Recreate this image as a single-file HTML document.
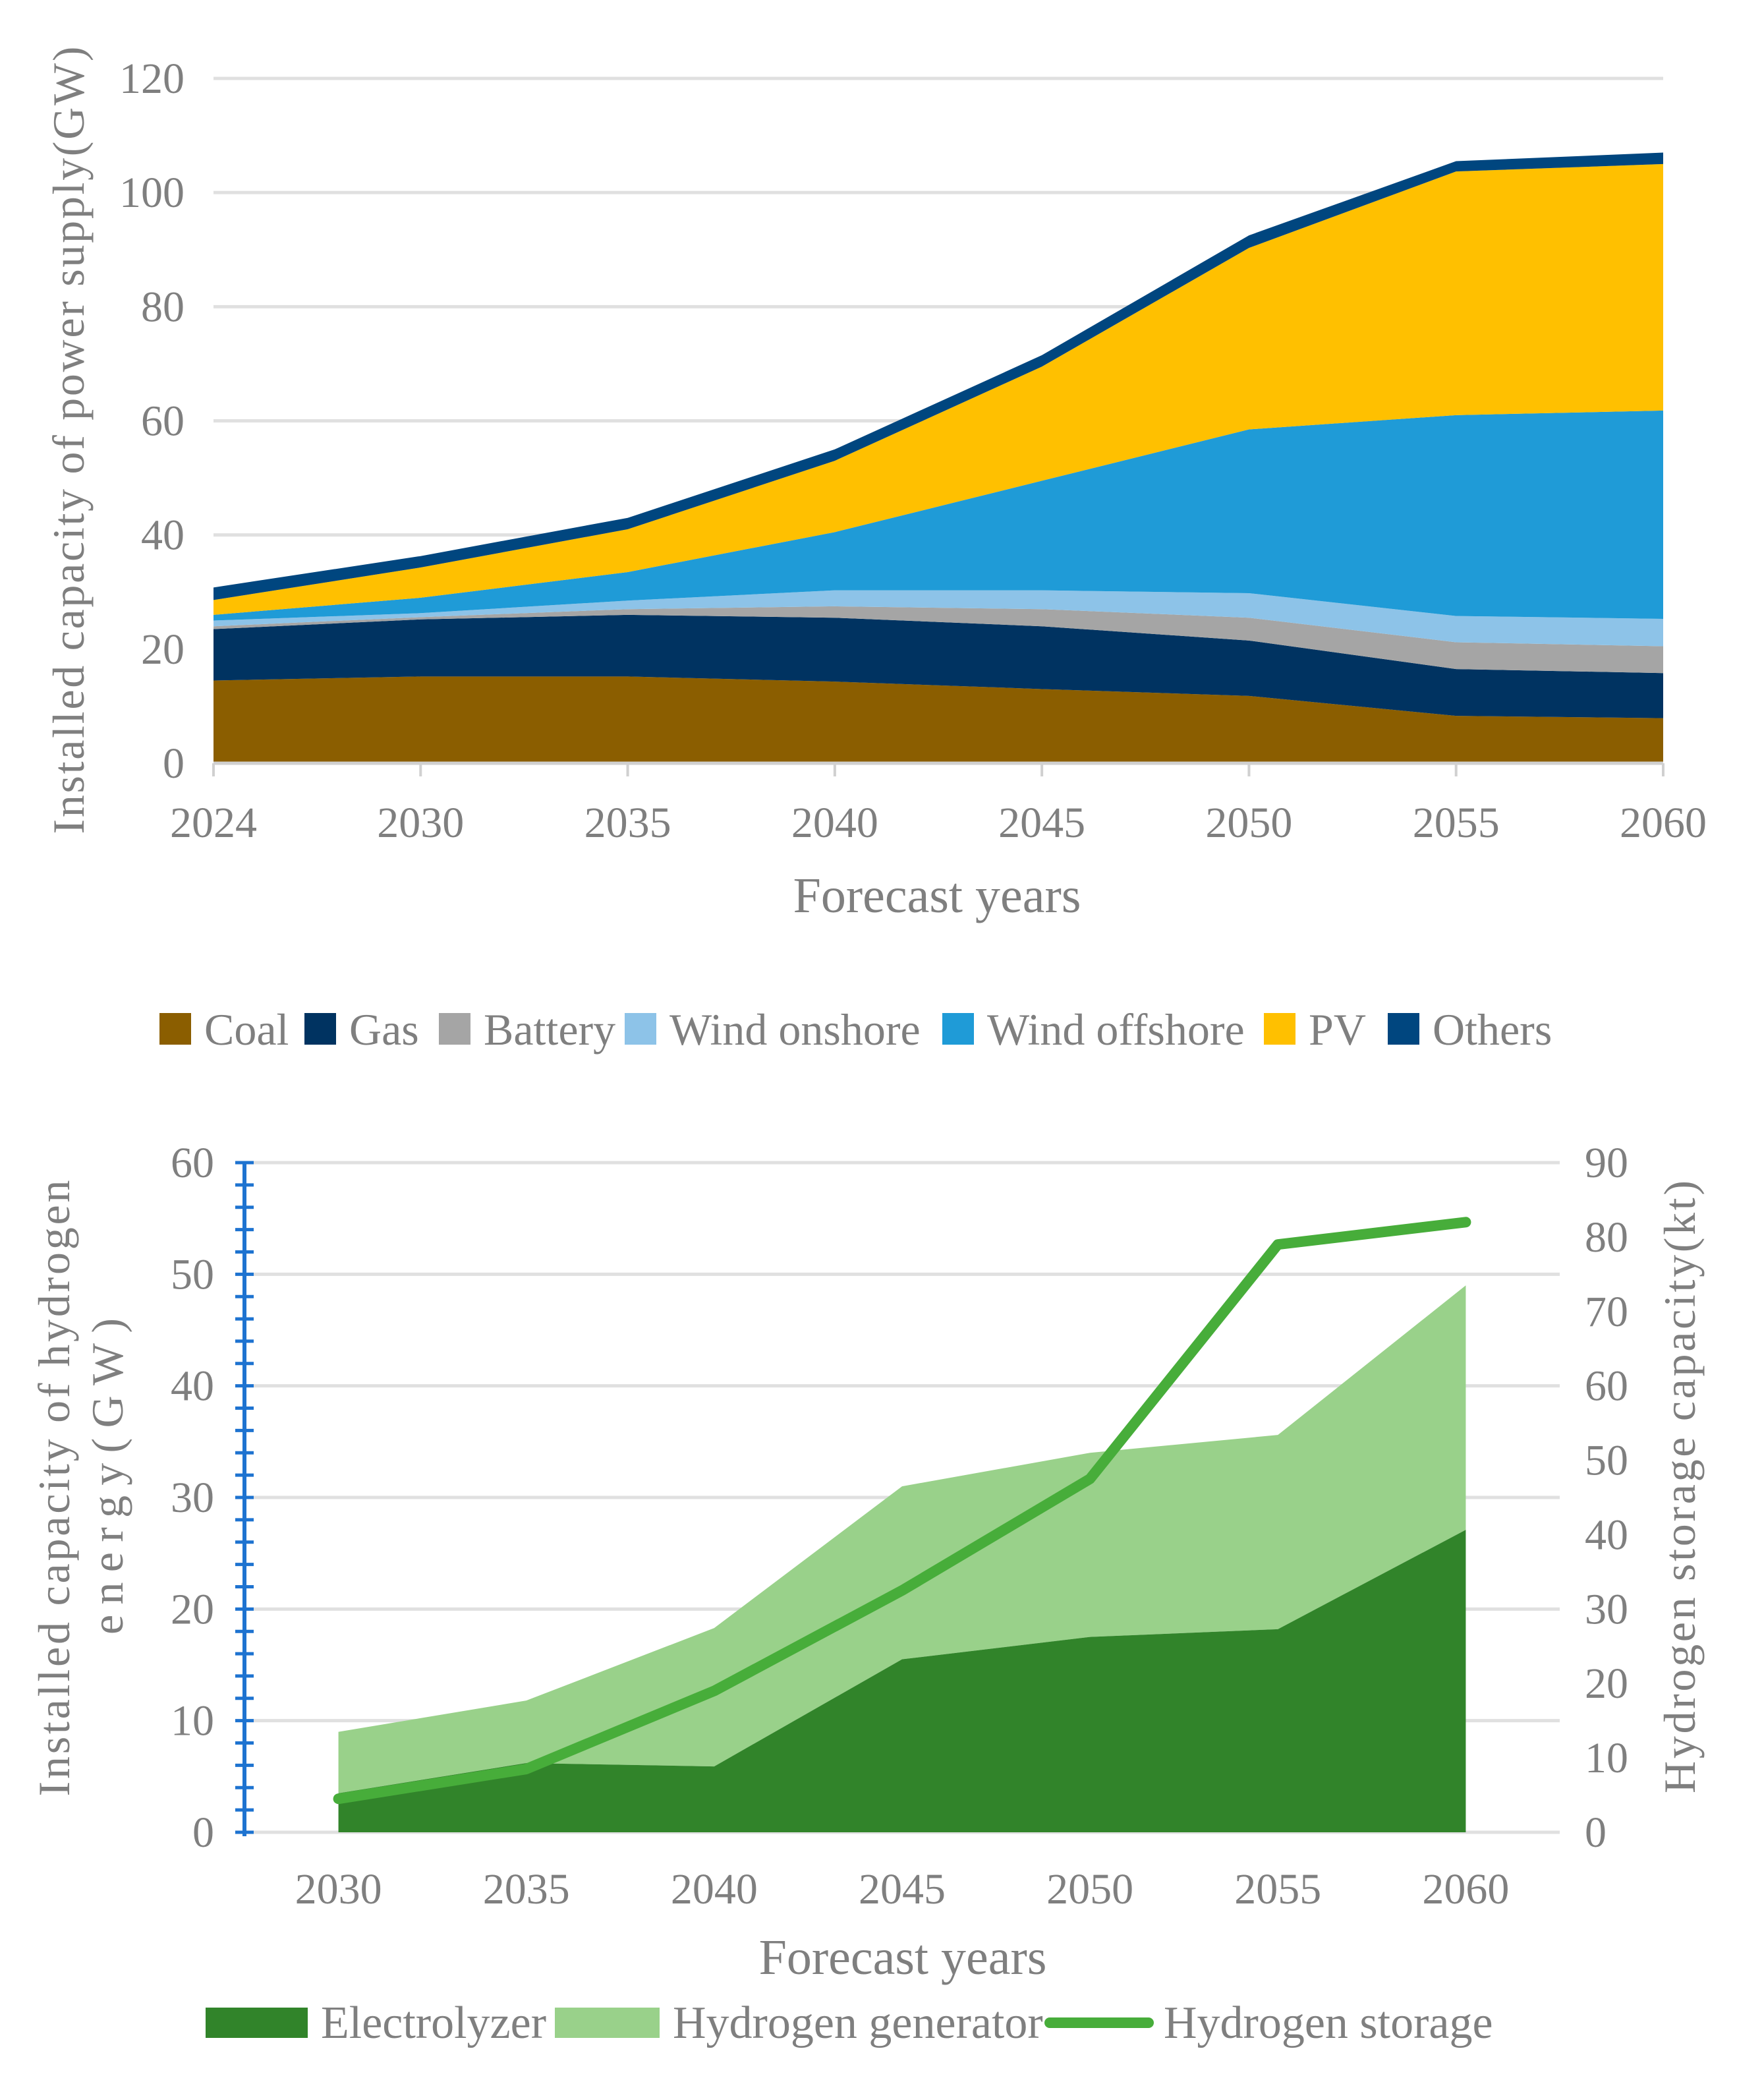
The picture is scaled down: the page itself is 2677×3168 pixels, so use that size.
<!DOCTYPE html>
<html><head><meta charset="utf-8"><style>html,body{margin:0;padding:0;background:#fff}svg{display:block}text{font-family:"Liberation Serif",serif;fill:#7f7f7f}</style></head>
<body>
<svg id="s" width="2677" height="3168" viewBox="0 0 2677 3168" xmlns="http://www.w3.org/2000/svg">
<g id="top"></g>
<g id="bot"></g>
</svg>
<script>
const NS="http://www.w3.org/2000/svg";
// ---- top chart data ----
const years=["2024","2030","2035","2040","2045","2050","2055","2060"];
const coal=[14.5,15.2,15.2,14.3,13.0,11.8,8.3,7.9];
const gas=[9.0,10.0,10.8,11.2,11.0,9.7,8.2,7.9];
const battery=[0.5,0.4,1.0,2.0,3.0,4.0,4.7,4.7];
const windOnshore=[1.0,0.7,1.5,2.8,3.3,4.3,4.6,4.8];
const windOffshore=[1.0,2.7,5.0,10.2,19.2,28.7,35.2,36.5];
const pv=[2.6,5.3,7.5,12.5,20.0,31.8,42.7,43.2];
const others=[2.2,2.0,2.0,2.0,2.0,2.2,1.8,2.0];
const topTicks=[0,20,40,60,80,100,120];
// ---- bottom chart data ----
const hYears=["2030","2035","2040","2045","2050","2055","2060"];
const electrolyzer=[3.5,6.2,5.9,15.5,17.5,18.2,27.1];
const generator=[5.5,5.6,12.4,15.5,16.5,17.4,21.9];
const storage=[4.5,8.5,19,32.5,47.5,79,82];
const leftTicks=[0,10,20,30,40,50,60];
const rightTicks=[0,10,20,30,40,50,60,70,80,90];

function el(p,tag,attrs,txt){const e=document.createElementNS(NS,tag);for(const k in attrs)e.setAttribute(k,attrs[k]);if(txt!==undefined)e.textContent=txt;p.appendChild(e);return e;}

// ===== TOP =====
const T=document.getElementById('top');
const tx0=324,tx1=2524,ty0=1158,ty1=119;
const tX=i=>tx0+(tx1-tx0)*i/(years.length-1);
const tY=v=>ty0-(ty0-ty1)*v/120;
topTicks.forEach(v=>{
  const g=el(T,'line',{x1:tx0,x2:tx1,y1:tY(v),y2:tY(v),stroke:'#e0e0e0','stroke-width':5});
  
  
  const t=el(T,'text',{x:280,y:tY(v)+22,'text-anchor':'end','font-size':66},String(v));
  
  
});
const series=[["coal",coal,"#8B5E00"],["gas",gas,"#003361"],["battery",battery,"#A5A5A5"],["wind-onshore",windOnshore,"#8DC3E8"],["wind-offshore",windOffshore,"#1F9BD7"],["pv",pv,"#FFC000"],["others",others,"#00467F"]];
let base=years.map(()=>0);
series.forEach(([n,arr,c])=>{
  const top=base.map((b,i)=>b+arr[i]);
  let d='M'+years.map((_,i)=>tX(i)+','+tY(top[i])).join(' L');
  for(let i=years.length-1;i>=0;i--)d+=' L'+tX(i)+','+tY(base[i]);
  const p=el(T,'path',{d:d+'Z',fill:c});
  
  
  base=top;
});
const ax=el(T,'line',{x1:tx0,x2:tx1,y1:ty0,y2:ty0,stroke:'#d0d0d0','stroke-width':5});


years.forEach((y,i)=>{
  el(T,'line',{x1:tX(i),x2:tX(i),y1:ty0,y2:ty0+20,stroke:'#d0d0d0','stroke-width':4});
  const t=el(T,'text',{x:tX(i),y:1270,'text-anchor':'middle','font-size':66},y);
  
  
});
let t1=el(T,'text',{x:1422,y:1384,'text-anchor':'middle','font-size':76},'Forecast years');


let t2=el(T,'text',{x:0,y:0,'text-anchor':'middle','font-size':68,textLength:1195,lengthAdjust:'spacing',transform:'translate(127,668) rotate(-90)'},'Installed capacity of power supply(GW)');


const leg=[["Coal",242,"#8B5E00"],["Gas",462,"#003361"],["Battery",666,"#A5A5A5"],["Wind onshore",948,"#8DC3E8"],["Wind offshore",1430,"#1F9BD7"],["PV",1918,"#FFC000"],["Others",2106,"#00467F"]];
leg.forEach(([n,x,c])=>{
  const g=el(T,'g',{});
  
  
  el(g,'rect',{x:x,y:1537,width:48,height:48,fill:c});
  el(g,'text',{x:x+68,y:1585,'font-size':68},n);
});

// ===== BOTTOM =====
const B=document.getElementById('bot');
const bx0=371,bx1=2367,by0=2780,by1=1764;
const bw=(bx1-bx0)/hYears.length;
const bX=i=>bx0+bw*(i+0.5);
const bY=v=>by0-(by0-by1)*v/60;
const bR=v=>by0-(by0-by1)*v/90;
leftTicks.forEach(v=>{
  const g=el(B,'line',{x1:bx0,x2:bx1,y1:bY(v),y2:bY(v),stroke:'#e0e0e0','stroke-width':5});
  
  
  const t=el(B,'text',{x:325,y:bY(v)+22,'text-anchor':'end','font-size':66},String(v));
  
  
});
rightTicks.forEach(v=>{
  const t=el(B,'text',{x:2405,y:bR(v)+22,'font-size':66},String(v));
  
  
});
const eTop=electrolyzer, gTop=electrolyzer.map((v,i)=>v+generator[i]);
function area(topA,botA){let d='M'+hYears.map((_,i)=>bX(i)+','+bY(topA[i])).join(' L');for(let i=hYears.length-1;i>=0;i--)d+=' L'+bX(i)+','+bY(botA?botA[i]:0);return d+'Z';}
const ga=el(B,'path',{d:area(gTop,eTop),fill:'#99D18A'});


const ea=el(B,'path',{d:area(eTop,null),fill:'#31842A'});


const sl=el(B,'polyline',{points:hYears.map((_,i)=>bX(i)+','+bR(storage[i])).join(' '),fill:'none',stroke:'#47AD3A','stroke-width':16,'stroke-linejoin':'round','stroke-linecap':'round'});


const la=el(B,'line',{x1:bx0,x2:bx0,y1:by1,y2:by0+6,stroke:'#1E73D0','stroke-width':6});


for(let v=0;v<=60;v+=2){el(B,'line',{x1:bx0-14,x2:bx0+14,y1:bY(v),y2:bY(v),stroke:'#1E73D0','stroke-width':5});}
hYears.forEach((y,i)=>{
  const t=el(B,'text',{x:bX(i),y:2888,'text-anchor':'middle','font-size':66},y);
  
  
});
let b1=el(B,'text',{x:1370,y:2995,'text-anchor':'middle','font-size':76},'Forecast years');


let b2=el(B,'text',{x:0,y:0,'text-anchor':'middle','font-size':68,textLength:935,lengthAdjust:'spacing',transform:'translate(105,2258) rotate(-90)'},'Installed capacity of hydrogen');


let b3=el(B,'text',{x:0,y:0,'text-anchor':'middle','font-size':68,textLength:480,lengthAdjust:'spacing',transform:'translate(186,2240) rotate(-90)'},'energy(GW)');


let b4=el(B,'text',{x:0,y:0,'text-anchor':'middle','font-size':68,textLength:930,lengthAdjust:'spacing',transform:'translate(2572,2256) rotate(-90)'},'Hydrogen storage capacity(kt)');


let g1=el(B,'g',{});
el(g1,'rect',{x:312,y:3046,width:155,height:46,fill:'#31842A'});el(g1,'text',{x:487,y:3092,'font-size':70},'Electrolyzer');
let g2=el(B,'g',{});
el(g2,'rect',{x:842,y:3046,width:159,height:46,fill:'#99D18A'});el(g2,'text',{x:1021,y:3092,'font-size':70},'Hydrogen generator');
let g3=el(B,'g',{});
el(g3,'line',{x1:1593,x2:1743,y1:3069,y2:3069,stroke:'#47AD3A','stroke-width':16,'stroke-linecap':'round'});el(g3,'text',{x:1766,y:3092,'font-size':70},'Hydrogen storage');
</script>
</body></html>
